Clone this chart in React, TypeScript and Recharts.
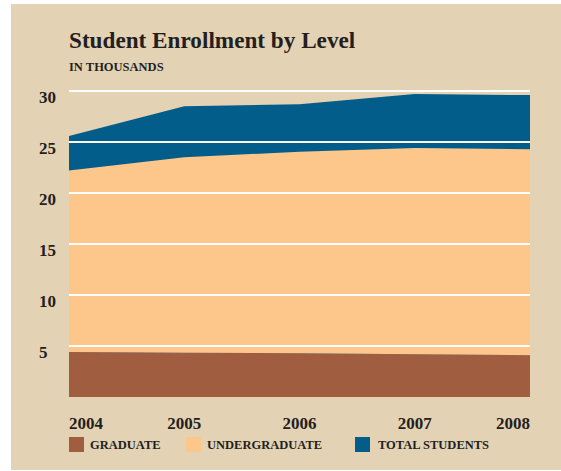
import React from "react";
import { AreaChart, Area, XAxis, YAxis, ReferenceLine } from "recharts";

const years = ["2004", "2005", "2006", "2007", "2008"];
const graduate = [4.4, 4.35, 4.3, 4.2, 4.1];
const undergraduate = [17.8, 19.15, 19.75, 20.2, 20.2];
const totalStudents = [25.6, 28.5, 28.7, 29.7, 29.6];
const yTicks = [5, 10, 15, 20, 25, 30];

const BLUE = "#035D8A";
const PEACH = "#FDC68A";
const BROWN = "#A15D3F";
const BEIGE = "#E4D2B4";
const INK = "#231F20";
const FONT = "'Liberation Serif', 'Times New Roman', serif";

const legendItems = [
  { label: "GRADUATE", color: BROWN, left: 69, textLeft: 90 },
  { label: "UNDERGRADUATE", color: PEACH, left: 186, textLeft: 207 },
  { label: "TOTAL STUDENTS", color: BLUE, left: 355, textLeft: 378 },
];

const data = years.map((year, i) => ({
  year,
  graduate: graduate[i],
  undergraduate: undergraduate[i],
  total: totalStudents[i],
}));

const YTick = (props: any) => {
  const { y, payload } = props;
  return (
    <text x={39} y={y + 12} textAnchor="start" fill={INK} fontFamily={FONT} fontWeight={700} fontSize={17}>
      {payload.value}
    </text>
  );
};

const XTick = (props: any) => {
  const { x, y, payload, index } = props;
  const anchor = index === 0 ? "start" : index === years.length - 1 ? "end" : "middle";
  return (
    <text x={x} y={y + 24} textAnchor={anchor} fill={INK} fontFamily={FONT} fontWeight={700} fontSize={17}>
      {payload.value}
    </text>
  );
};

export default function App() {
  return (
    <div style={{ position: "absolute", left: 0, top: 0, width: 561, height: 471, background: "#fff", fontFamily: FONT }}>
      <div style={{ position: "absolute", left: 11, top: 4, width: 550, height: 466, background: BEIGE }} />
      <div style={{ position: "absolute", left: 69, top: 27, fontSize: 23.2, fontWeight: 700, color: INK, whiteSpace: "nowrap" }}>
        Student Enrollment by Level
      </div>
      <div style={{ position: "absolute", left: 69, top: 60, fontSize: 12.5, fontWeight: 700, color: INK, whiteSpace: "nowrap" }}>
        IN THOUSANDS
      </div>
      <div style={{ position: "absolute", left: 0, top: 0 }}>
        <AreaChart width={561} height={471} data={data} margin={{ top: 91, right: 31, left: 0, bottom: 0 }}>
          <XAxis dataKey="year" axisLine={false} tickLine={false} height={74} tick={<XTick />} interval={0} />
          <YAxis domain={[0, 30]} ticks={yTicks} axisLine={false} tickLine={false} width={69} tick={<YTick />} />
          <Area type="linear" dataKey="total" stroke="none" fill={BLUE} fillOpacity={1} isAnimationActive={false} />
          <Area type="linear" dataKey="graduate" stackId="a" stroke="none" fill={BROWN} fillOpacity={1} isAnimationActive={false} />
          <Area type="linear" dataKey="undergraduate" stackId="a" stroke="none" fill={PEACH} fillOpacity={1} isAnimationActive={false} />
          {yTicks.map((t) => (
            <ReferenceLine key={t} y={t} stroke="#fff" strokeWidth={2} />
          ))}
        </AreaChart>
      </div>
      {legendItems.map((item) => (
        <React.Fragment key={item.label}>
          <div style={{ position: "absolute", left: item.left, top: 437, width: 15, height: 15, background: item.color }} />
          <div style={{ position: "absolute", left: item.textLeft, top: 437, fontSize: 12.5, fontWeight: 700, color: INK, whiteSpace: "nowrap", lineHeight: "16px" }}>
            {item.label}
          </div>
        </React.Fragment>
      ))}
    </div>
  );
}
